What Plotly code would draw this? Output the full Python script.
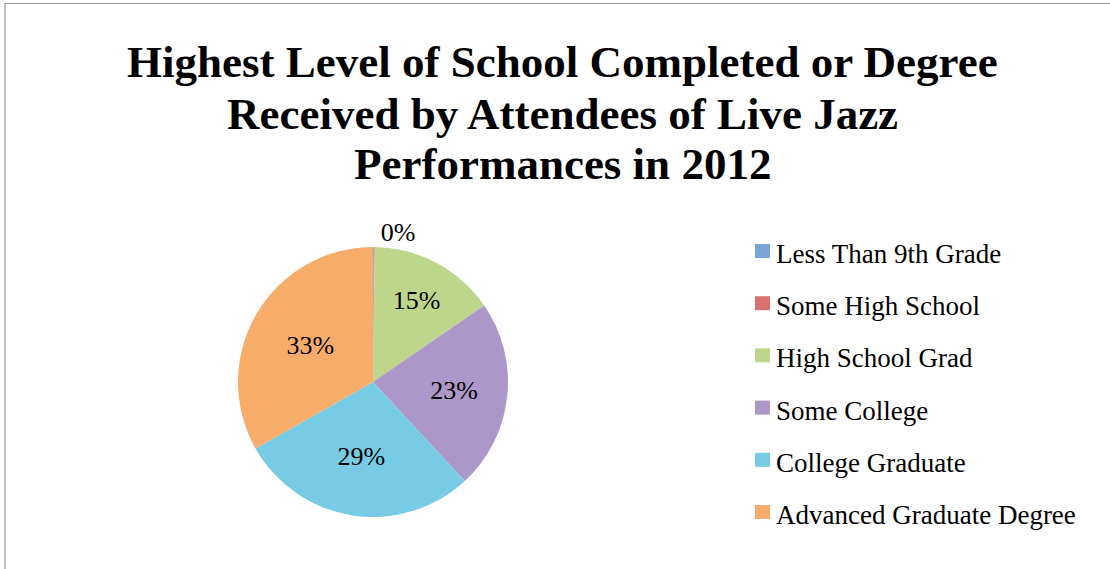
import plotly.graph_objects as go

categories = ["Less Than 9th Grade", "Some High School", "High School Grad",
              "Some College", "College Graduate", "Advanced Graduate Degree"]
values = [0.1, 0.1, 15.2, 22.7, 28.7, 33.2]
colors = ["#7aa3d8", "#d9716e", "#bdd68b", "#ab97c8", "#77cbe4", "#f8ac69"]
# the two near-zero slices share one "0%" label in the reference
text_positions = ["outside", "none", "inside", "inside", "inside", "inside"]

title_lines = ["Highest Level of School Completed or Degree",
               "Received by Attendees of Live Jazz",
               "Performances in 2012"]

W, H = 1110, 569
fig = go.Figure()
fig.add_trace(go.Pie(
    labels=categories, values=values, sort=False, direction="clockwise",
    rotation=0, marker=dict(colors=colors, line=dict(width=0)),
    texttemplate="%{percent:.0%}", textposition=text_positions,
    insidetextorientation="horizontal",
    textfont=dict(family="Liberation Serif", size=26, color="black"),
    domain=dict(x=[238 / W, 508 / W], y=[1 - 517 / H, 1 - 247 / H]),
    showlegend=False, hoverinfo="label+percent",
))

# frame
shapes = [dict(type="rect", xref="paper", yref="paper", x0=5 / W, x1=1.2,
               y0=-0.2, y1=1 - 3.5 / H, line=dict(color="#9a9a9a", width=1.2),
               fillcolor="rgba(0,0,0,0)")]
annotations = []

# title, one annotation per line
title_y = [62, 114, 164]
for line, yc in zip(title_lines, title_y):
    annotations.append(dict(text="<b>" + line + "</b>", xref="paper", yref="paper",
                            x=562 / W, y=1 - yc / H, xanchor="center", yanchor="middle",
                            showarrow=False,
                            font=dict(family="Liberation Serif", size=45, color="black")))

# legend drawn from category/colour lists
row0, step = 254, 52.2
for i, (cat, col) in enumerate(zip(categories, colors)):
    yc = row0 + i * step
    shapes.append(dict(type="rect", xref="paper", yref="paper",
                       x0=755 / W, x1=770 / W,
                       y0=1 - (yc + 4) / H, y1=1 - (yc - 10) / H,
                       fillcolor=col, line=dict(width=0)))
    annotations.append(dict(text=cat, xref="paper", yref="paper",
                            x=774 / W, y=1 - yc / H, xanchor="left", yanchor="middle",
                            showarrow=False,
                            font=dict(family="Liberation Serif", size=27, color="black")))

fig.update_layout(
    width=W, height=H, margin=dict(l=0, r=0, t=0, b=0),
    paper_bgcolor="white", plot_bgcolor="white",
    shapes=shapes, annotations=annotations,
)
fig.write_html("out.html", config={"displayModeBar": False},
               post_script="document.body.style.margin='0';")
